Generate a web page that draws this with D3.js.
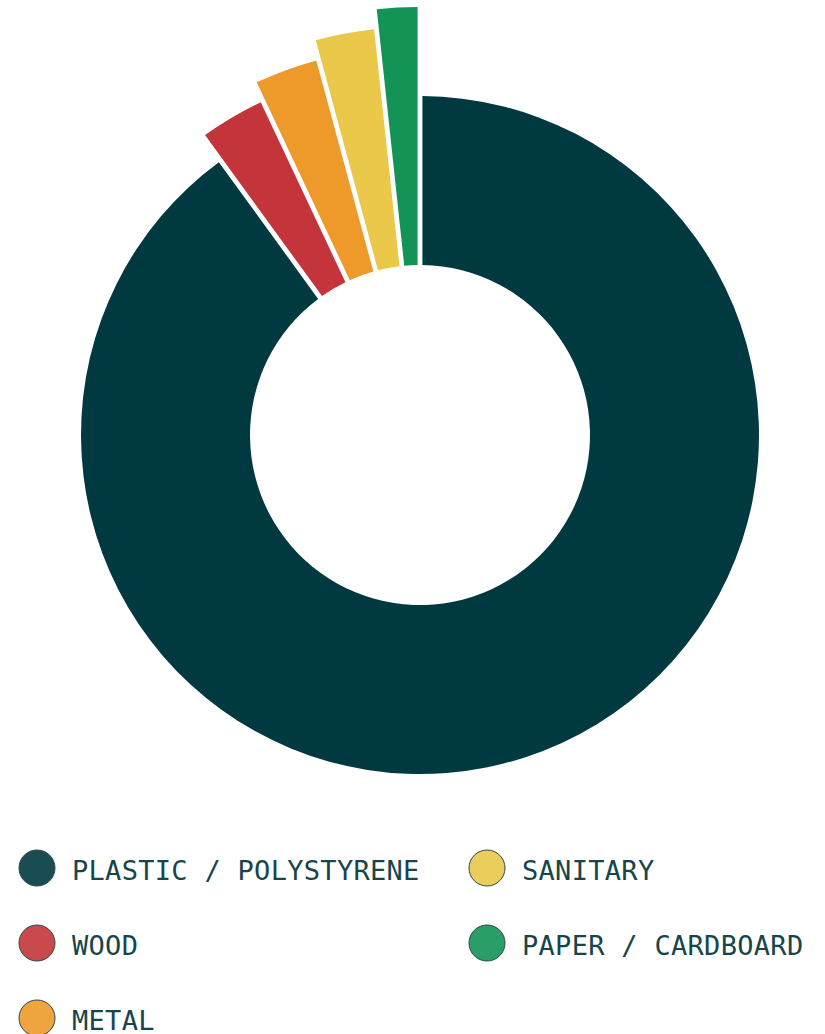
<!DOCTYPE html>
<html>
<head>
<meta charset="utf-8">
<script src="https://cdn.jsdelivr.net/npm/d3@7"></script>
<style>
	body { margin: 0; background: #fff; }
	svg { display: block; }
	.legend text { font-family: 'DejaVu Sans Mono', monospace; fill: #17454a; }
</style>
</head>
<body>
<div id="chart"></div>
<script>
let categories = ['PLASTIC / POLYSTYRENE', 'WOOD', 'METAL', 'SANITARY', 'PAPER / CARDBOARD'];
let values = [90.0, 3.0, 2.8, 2.5, 1.7];
let colors = ['#003a40', '#c3353a', '#ee9a2b', '#e9c84a', '#149356'];

let svgWidth = 825;
let svgHeight = 1034;
let cx = 420, cy = 435;
let innerR = 170;
let mainR = 339;

let svg = d3.select('#chart').append('svg')
	.attr('width', svgWidth)
	.attr('height', svgHeight);

let data = categories.map((c, i) => ({ name: c, value: values[i], index: i }));

let pie = d3.pie()
	.sort(null)
	.value(d => d.value);

// small slices step out further, one by one
let smallR = d3.scaleLinear()
	.domain([1, categories.length - 1])
	.range([369, 428]);

let arc = d3.arc()
	.innerRadius(innerR)
	.outerRadius(d => d.data.index === 0 ? mainR : smallR(d.data.index))
	.padAngle(0.016)
	.padRadius(300);

let body = svg.append('g')
	.attr('transform', `translate(${cx}, ${cy})`);

body.selectAll('path.slice')
	.data(pie(data))
	.enter()
	.append('path')
	.classed('slice', true)
	.attr('d', arc)
	.attr('fill', (d, i) => colors[i]);

// legend, column-major, 3 rows
let rows = 3;
let legend = svg.selectAll('.legend')
	.data(data)
	.enter()
	.append('g')
	.attr('class', 'legend')
	.attr('transform', (d, i) => `translate(${37 + Math.floor(i / rows) * 450}, ${868 + (i % rows) * 75})`);

legend.append('circle')
	.attr('cx', 0)
	.attr('cy', 0)
	.attr('r', 18)
	.attr('fill', (d, i) => colors[i])
	.attr('fill-opacity', 0.9)
	.attr('stroke', '#2b4a4d')
	.attr('stroke-width', 1);

legend.append('text')
	.attr('x', 35)
	.attr('y', 12)
	.attr('font-size', '27px')
	.attr('letter-spacing', '0.3px')
	.text(d => d.name);
</script>
</body>
</html>
